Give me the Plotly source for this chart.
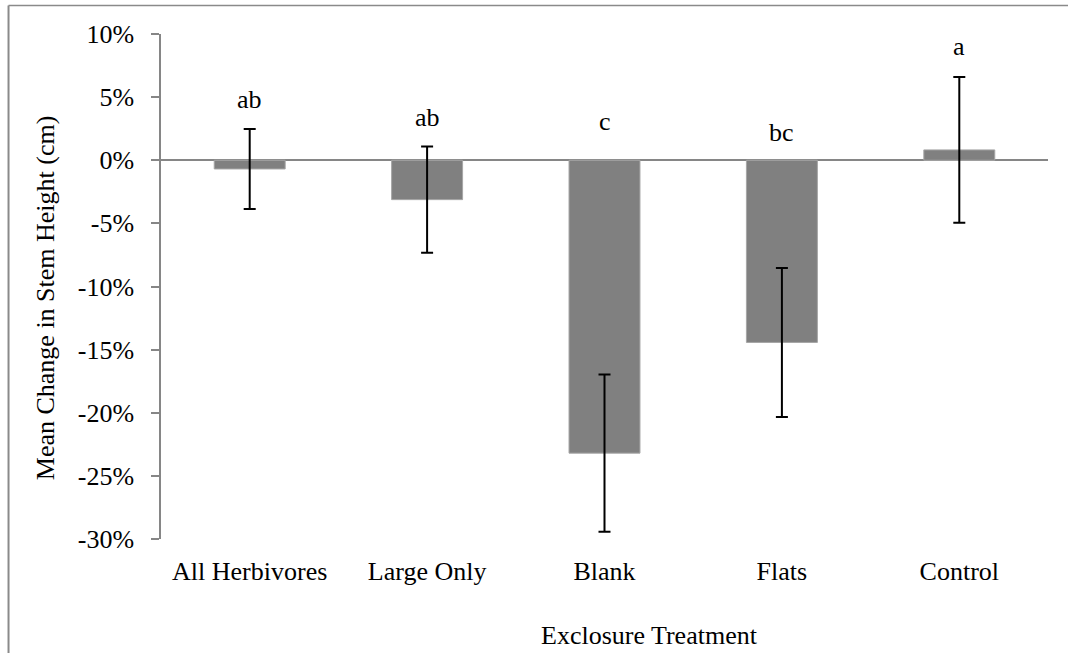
import plotly.graph_objects as go

# Mean change in stem height by exclosure treatment (percent)
categories = ["All Herbivores", "Large Only", "Blank", "Flats", "Control"]
mean_change = [-0.69, -3.12, -23.2, -14.43, 0.82]
std_error = [3.17, 4.2, 6.22, 5.9, 5.77]
sig_letters = ["ab", "ab", "c", "bc", "a"]

y_tick_values = [-30, -25, -20, -15, -10, -5, 0, 5, 10]
y_tick_labels = ["-30%", "-25%", "-20%", "-15%", "-10%", "-5%", "0%", "5%", "10%"]

# vertical placement of the significance letters (percent units)
letter_y = [4.8, 3.35, 3.1, 2.16, 8.99]

FONT = "Liberation Serif"
FS = 26
AXIS_GREY = "#868686"

fig = go.Figure()
fig.add_trace(go.Bar(
    x=categories,
    y=mean_change,
    marker=dict(color="#808080", line=dict(color="#a6a6a6", width=1)),
    error_y=dict(type="data", array=std_error, visible=True,
                 color="black", thickness=2, width=6),
    width=0.4,
    showlegend=False,
))

for cat, letter, ly in zip(categories, sig_letters, letter_y):
    fig.add_annotation(x=cat, y=ly, text=letter, showarrow=False,
                       xref="x", yref="y", yanchor="middle",
                       font=dict(family=FONT, size=FS, color="black"))

# axis titles
fig.add_annotation(text="Mean Change in Stem Height (cm)", textangle=-90,
                   x=-0.1308, y=0.4787, xref="paper", yref="paper",
                   showarrow=False, xanchor="center", yanchor="middle",
                   font=dict(family=FONT, size=FS, color="black"))
fig.add_annotation(text="Exclosure Treatment",
                   x=0.5507, y=-0.1919, xref="paper", yref="paper",
                   showarrow=False, xanchor="center", yanchor="middle",
                   font=dict(family=FONT, size=FS, color="black"))

# chart frame (left and top edges)
fig.add_shape(type="line", xref="paper", yref="paper",
              x0=-0.1719, x1=-0.1719, y0=1.0564, y1=-0.3,
              line=dict(color="#8a8a8a", width=2))
fig.add_shape(type="line", xref="paper", yref="paper",
              x0=-0.1719, x1=1.1, y0=1.0564, y1=1.0564,
              line=dict(color="#8a8a8a", width=1.5))

fig.update_layout(
    width=1068, height=653,
    margin=dict(l=161, r=20, t=34, b=114),
    paper_bgcolor="white", plot_bgcolor="white",
    bargap=0.6,
    font=dict(family=FONT, size=FS, color="black"),
    xaxis=dict(showline=False, ticks="", showgrid=False, zeroline=False,
               tickfont=dict(family=FONT, size=FS, color="black"),
               ticklabelstandoff=14),
    yaxis=dict(range=[-30, 10], tickvals=y_tick_values, ticktext=y_tick_labels,
               showline=True, linecolor=AXIS_GREY, linewidth=1.5,
               ticks="outside", ticklen=8, tickcolor=AXIS_GREY, tickwidth=1.5,
               showgrid=False, zeroline=True, zerolinecolor=AXIS_GREY,
               zerolinewidth=2,
               tickfont=dict(family=FONT, size=FS, color="black"),
               ticklabelstandoff=12),
)

fig.write_html("out.html")
